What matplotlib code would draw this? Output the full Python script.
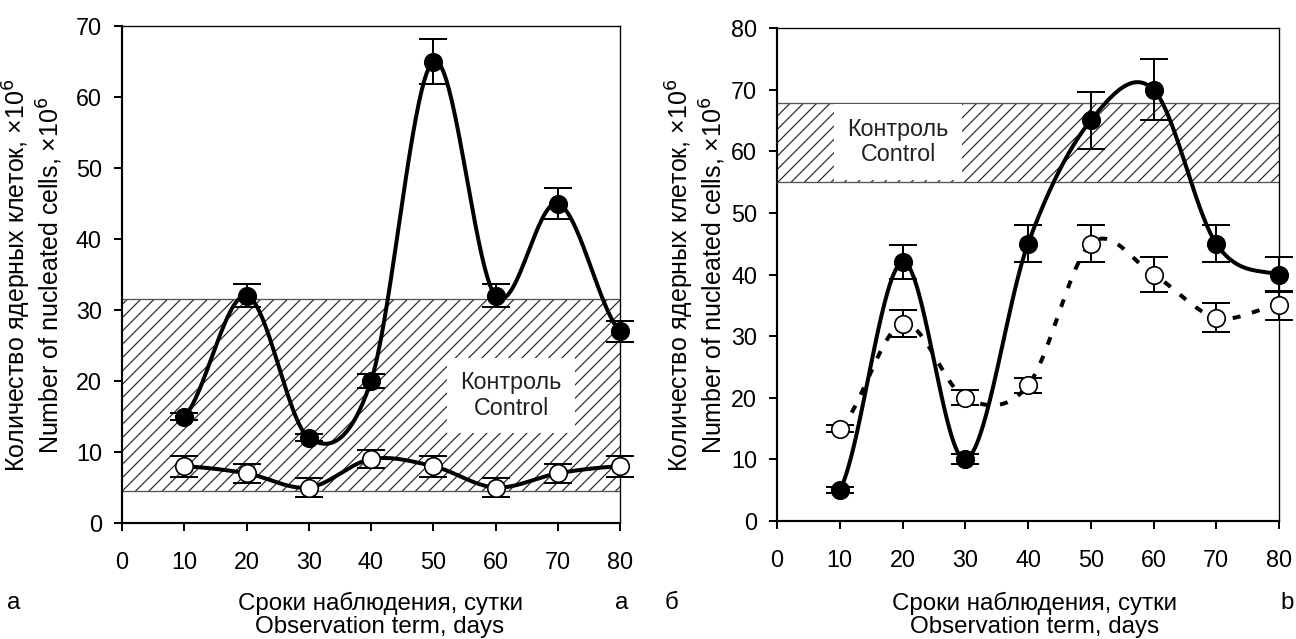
import matplotlib
matplotlib.use("Agg")
import matplotlib.pyplot as plt
import numpy as np

plt.rcParams["font.family"] = ["Liberation Sans", "DejaVu Sans"]
plt.rcParams["font.size"] = 14
plt.rcParams["hatch.linewidth"] = 0.7

days = [10, 20, 30, 40, 50, 60, 70, 80]

# panel a
a_filled = [15, 32, 12, 20, 65, 32, 45, 27]
a_filled_err = [0.5, 1.6, 0.5, 1.0, 3.2, 1.6, 2.2, 1.5]
a_open = [8, 7, 5, 9, 8, 5, 7, 8]
a_open_err = [1.5, 1.3, 1.4, 1.3, 1.5, 1.4, 1.3, 1.5]
a_control = (4.5, 31.5)

# panel b
b_filled = [5, 42, 10, 45, 65, 70, 45, 40]
b_filled_err = [0.5, 2.8, 0.8, 3.0, 4.6, 5.0, 3.0, 2.8]
b_open = [15, 32, 20, 22, 45, 40, 33, 35]
b_open_err = [0.5, 2.2, 1.2, 1.2, 3.0, 2.8, 2.3, 2.4]
b_control = (55, 67.8)

ylabel = "Количество ядерных клеток, ×10$^6$\nNumber of nucleated cells, ×10$^6$"
xlabel = "Сроки наблюдения, сутки\nObservation term, days"

W, H = 1296, 639


def smooth(x, y, n=40):
    # catmull-rom style cubic through the points (like the Excel smoothed line)
    x = np.asarray(x, float)
    y = np.asarray(y, float)
    m = np.empty_like(y)
    m[1:-1] = (y[2:] - y[:-2]) / 2
    m[0] = (y[1] - y[0]) / 2
    m[-1] = (y[-1] - y[-2]) / 2
    xs, ys = [], []
    t = np.linspace(0, 1, n)
    h00 = 2 * t**3 - 3 * t**2 + 1
    h10 = t**3 - 2 * t**2 + t
    h01 = -2 * t**3 + 3 * t**2
    h11 = t**3 - t**2
    for i in range(len(x) - 1):
        xs.append(x[i] + (x[i + 1] - x[i]) * t)
        ys.append(h00 * y[i] + h10 * m[i] + h01 * y[i + 1] + h11 * m[i + 1])
    return np.concatenate(xs), np.concatenate(ys)


def draw_panel(ax, filled, filled_err, opn, opn_err, control, ymax, box_xy, open_style):
    ax.fill_between([0, 80], control[0], control[1], facecolor="white",
                    edgecolor="#222222", hatch="///", linewidth=0, zorder=1)
    ax.axhline(control[0], color="#555555", lw=0.8, zorder=1.5)
    ax.axhline(control[1], color="#555555", lw=0.8, zorder=1.5)
    ax.text(box_xy[0], box_xy[1], "Контроль\nControl", ha="center", va="center",
            fontsize=14, color="#222222", linespacing=1.15, zorder=2,
            bbox=dict(facecolor="white", edgecolor="none", pad=8))

    xs, ys = smooth(days, opn)
    ax.plot(xs, ys, color="black", lw=2.4, linestyle=open_style, zorder=3, clip_on=False)
    xs, ys = smooth(days, filled)
    ax.plot(xs, ys, color="black", lw=2.4, zorder=3, clip_on=False)

    for vals, errs in [(opn, opn_err), (filled, filled_err)]:
        eb = ax.errorbar(days, vals, yerr=errs, fmt="none", ecolor="black", elinewidth=1.2,
                         capsize=8.5, capthick=1.2, zorder=4)
        for art in eb.lines[1] + eb.lines[2]:
            art.set_clip_on(False)
    ax.plot(days, opn, "o", ms=10.5, mfc="white", mec="black", mew=1.0, zorder=5, clip_on=False)
    ax.plot(days, filled, "o", ms=10.5, mfc="black", mec="black", mew=1.0, zorder=5, clip_on=False)

    ax.set_xlim(0, 80)
    ax.set_ylim(0, ymax)
    ax.set_xticks(range(0, 81, 10))
    ax.set_yticks(range(0, ymax + 1, 10))
    ax.tick_params(axis="x", direction="out", length=5, width=1.2, pad=12, labelsize=14)
    ax.tick_params(axis="y", direction="out", length=5, width=1.2, pad=7, labelsize=14)
    for s in ["left", "bottom"]:
        ax.spines[s].set_linewidth(1.3)
    for s in ["top", "right"]:
        ax.spines[s].set_linewidth(0.8)


fig = plt.figure(figsize=(W / 120, H / 120), dpi=120)
ax1 = fig.add_axes([122 / W, 1 - 523 / H, 498 / W, 497 / H])
ax2 = fig.add_axes([777 / W, 1 - 521 / H, 502 / W, 493 / H])

draw_panel(ax1, a_filled, a_filled_err, a_open, a_open_err, a_control, 70, (62.5, 18), "-")
draw_panel(ax2, b_filled, b_filled_err, b_open, b_open_err, b_control, 80, (19.3, 61.5), (0, (2, 3)))

for cx, cy in [(33, 275), (696, 275)]:
    fig.text(cx / W, 1 - cy / H, ylabel, rotation=90, ha="center", va="center",
             fontsize=15, linespacing=1.1)
for cx in [380, 1035]:
    fig.text(cx / W, 1 - 615 / H, xlabel, ha="center", va="center",
             fontsize=14.5, linespacing=1.1)
for lbl, cx in [("а", 14), ("а", 622), ("б", 672), ("b", 1287)]:
    fig.text(cx / W, 1 - 603 / H, lbl, ha="center", va="center", fontsize=14.5)

fig.savefig("out.png", dpi=120)
